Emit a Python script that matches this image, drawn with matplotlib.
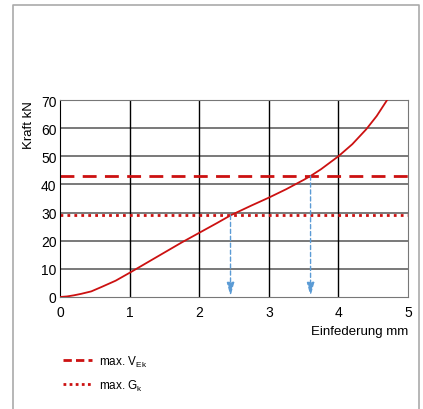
import matplotlib
matplotlib.use("Agg")
import matplotlib.pyplot as plt
from matplotlib.lines import Line2D

plt.rcParams['font.family'] = ['Liberation Sans', 'DejaVu Sans']
plt.rcParams['mathtext.fontset'] = 'custom'
plt.rcParams['mathtext.rm'] = 'Liberation Sans'

# curve
einfederung = [0, 0.1, 0.2, 0.3, 0.45, 0.6, 0.8, 1.0, 1.25, 1.5, 1.75, 2.0, 2.25,
               2.45, 2.75, 3.0, 3.25, 3.5, 3.6, 3.75, 4.0, 4.2, 4.4, 4.55, 4.7]
kraft = [0, 0.2, 0.6, 1.1, 2.0, 3.6, 5.8, 8.6, 12.2, 15.8, 19.4, 22.8, 26.2,
         29.0, 32.5, 35.3, 38.3, 41.6, 43.0, 45.4, 50.0, 54.3, 59.6, 64.3, 70.0]

max_v_ek = 43
max_g_k = 29
cross_x = [2.45, 3.6]
cross_y = [max_g_k, max_v_ek]

red = '#cc1111'
blue = '#5b9bd5'

fig = plt.figure(figsize=(4.23, 4.10), dpi=100)
ax = fig.add_axes([60/423, 1-298/410, 348/423, 197/410])

# grid
for v in range(10, 70, 10):
    ax.axhline(v, color='#555555', lw=1.1, zorder=1)
for v in range(1, 5):
    ax.axvline(v, color='black', lw=1.0, zorder=1)

ax.plot(einfederung, kraft, color=red, lw=1.3, zorder=3)
ax.axhline(max_v_ek, color=red, lw=2.0, ls=(0, (5, 3)), zorder=2)
ax.axhline(max_g_k, color=red, lw=2.0, ls=(0, (1, 1.5)), zorder=2)

for x, y in zip(cross_x, cross_y):
    ax.annotate('', xy=(x, 0.3), xytext=(x, y),
                arrowprops=dict(arrowstyle='-|>,head_length=0.8,head_width=0.22',
                                color=blue, lw=1.0, ls=(0, (3, 2)),
                                shrinkA=0, shrinkB=0), zorder=4)

ax.set_xlim(0, 5)
ax.set_ylim(0, 70)
ax.set_xticks(range(0, 6))
ax.set_yticks(range(0, 80, 10))
ax.tick_params(axis='x', length=0, labelsize=10, pad=6)
ax.tick_params(axis='y', length=0, labelsize=10, pad=2.5)
for s in ['top', 'right', 'bottom']:
    ax.spines[s].set_color('#777777')
ax.spines['left'].set_color('black')

fig.text(29/423, 1-101/410, 'Kraft kN', rotation=90, ha='center', va='top', fontsize=9.5)
fig.text(408/423, 1-332/410, 'Einfederung mm', ha='right', va='center', fontsize=9.5)

handles = [Line2D([], [], color=red, lw=2.0, ls=(0, (3, 1.5))),
           Line2D([], [], color=red, lw=2.0, ls=(0, (1, 1.2)))]
labels = ['max. V$_{\\mathrm{Ek}}$', 'max. G$_{\\mathrm{k}}$']
fig.legend(handles, labels, loc='upper left', bbox_to_anchor=(52/423, 1-344/410),
           frameon=False, fontsize=8.5, handlelength=2.5, handletextpad=0.55,
           labelspacing=0.75)

# light frame around the figure
fig.add_artist(Line2D([13/423, 13/423, 419/423, 419/423], [0, 1-6/410, 1-6/410, 0],
                      color='#aaaaaa', lw=1.2, transform=fig.transFigure))

fig.savefig('out.png', dpi=100)
